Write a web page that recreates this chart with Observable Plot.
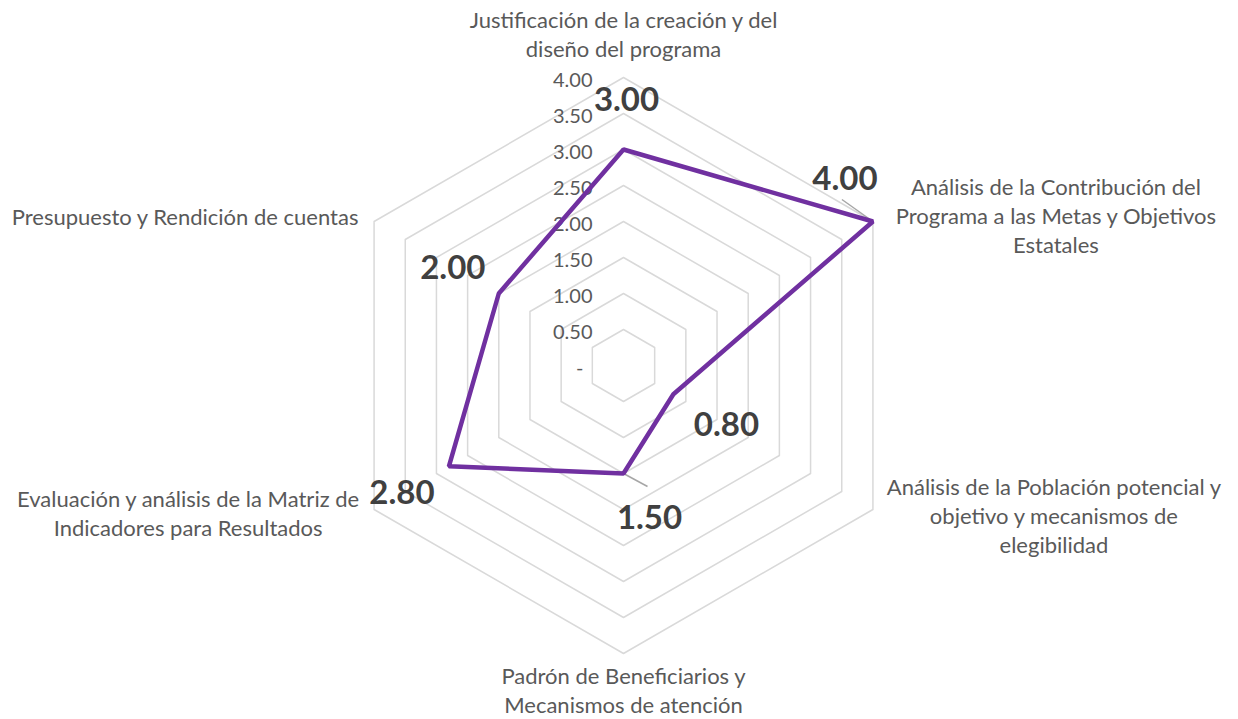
<!DOCTYPE html>
<html>
<head>
<meta charset="utf-8">
<script src="https://cdn.jsdelivr.net/npm/d3@7"></script>
<script src="https://cdn.jsdelivr.net/npm/@observablehq/plot@0.6"></script>
<style>
  html, body { margin: 0; padding: 0; background: #ffffff; }
  #chart svg { display: block; }
</style>
</head>
<body>
<div id="chart"></div>
<script>
// ---- data ----
const categories = [
  "Justificación de la creación y del\ndiseño del programa",
  "Análisis de la Contribución del\nPrograma a las Metas y Objetivos\nEstatales",
  "Análisis de la Población potencial y\nobjetivo y mecanismos de\nelegibilidad",
  "Padrón de Beneficiarios y\nMecanismos de atención",
  "Evaluación y análisis de la Matriz de\nIndicadores para Resultados",
  "Presupuesto y Rendición de cuentas"
];
const values = [3.00, 4.00, 0.80, 1.50, 2.80, 2.00];
const valueLabels = ["3.00", "4.00", "0.80", "1.50", "2.80", "2.00"];
const ticks = [0, 0.5, 1.0, 1.5, 2.0, 2.5, 3.0, 3.5, 4.0];
const tickLabels = ["-", "0.50", "1.00", "1.50", "2.00", "2.50", "3.00", "3.50", "4.00"];

// ---- layout (pixels) ----
const W = 1238, H = 719, CX = 623, CY = 365, R = 288, MAXV = 4;
const PX = R / MAXV; // pixels per data unit
const catOffsets = [[0, -44.5], [183, -7], [181, 5], [0, 35.5], [-186, 3], [-189, -6]];
const valOffsets = [[3, -49], [-28, -42], [53, 31], [26, 45], [-47, 27], [-46, -25]];
const leaders = [{i: 1, dx: -31, dy: -22}, {i: 3, dx: 24, dy: 13}];

const n = categories.length;
const ang = i => Math.PI / 2 - i * 2 * Math.PI / n;
const px = (r, i) => r * Math.cos(ang(i));
const py = (r, i) => r * Math.sin(ang(i));

// grid rings
const rings = [];
ticks.filter(t => t > 0).forEach(t => {
  for (let i = 0; i < n; i++) rings.push({t, x: px(t, i), y: py(t, i)});
});
const series = values.map((v, i) => ({i, x: px(v, i), y: py(v, i)}));
const cats = categories.map((c, i) => ({
  text: c,
  x: px(MAXV, i) + catOffsets[i][0] / PX,
  y: py(MAXV, i) - catOffsets[i][1] / PX
}));
const vlabels = valueLabels.map((l, i) => ({
  text: l,
  x: px(values[i], i) + valOffsets[i][0] / PX,
  y: py(values[i], i) - valOffsets[i][1] / PX
}));
const leaderData = leaders.map(d => ({
  x1: px(values[d.i], d.i), y1: py(values[d.i], d.i),
  x2: px(values[d.i], d.i) + d.dx / PX, y2: py(values[d.i], d.i) - d.dy / PX
}));
const tickData = ticks.map((t, k) => ({t, label: tickLabels[k]}));

const FONT = "Lato, 'Open Sans', sans-serif";
const chart = Plot.plot({
  width: W,
  height: H,
  margin: 0,
  style: {background: "#ffffff"},
  x: {domain: [-CX / PX, (W - CX) / PX], axis: null},
  y: {domain: [-(H - CY) / PX, CY / PX], axis: null},
  marks: [
    Plot.line(rings, {x: "x", y: "y", z: "t", curve: "linear-closed", stroke: "#d9d9d9", strokeWidth: 1.5}),
    Plot.text(tickData.filter(d => d.t > 0), {x: () => 0, y: "t", text: "label", textAnchor: "end", dx: -31, dy: 3,
      fontSize: 20, fontFamily: FONT, fill: "#595959"}),
    Plot.text(tickData.filter(d => d.t === 0), {x: () => 0, y: "t", text: "label", textAnchor: "end", dx: -40, dy: 3,
      fontSize: 20, fontFamily: FONT, fill: "#595959"}),
    Plot.link(leaderData, {x1: "x1", y1: "y1", x2: "x2", y2: "y2", stroke: "#a6a6a6", strokeWidth: 1.5}),
    Plot.line(series, {x: "x", y: "y", curve: "linear-closed", stroke: "#7030a0", strokeWidth: 4.5, strokeLinejoin: "miter"}),
    Plot.text(cats, {x: "x", y: "y", text: "text", textAnchor: "middle", lineAnchor: "middle", lineHeight: 1.33,
      fontSize: 22, fontFamily: FONT, fill: "#595959"}),
    Plot.text(vlabels, {x: "x", y: "y", text: "text", textAnchor: "middle", lineAnchor: "middle",
      fontSize: 33, fontWeight: "bold", fontFamily: FONT, fill: "#404040"})
  ]
});
document.getElementById("chart").appendChild(chart);
</script>
</body>
</html>
